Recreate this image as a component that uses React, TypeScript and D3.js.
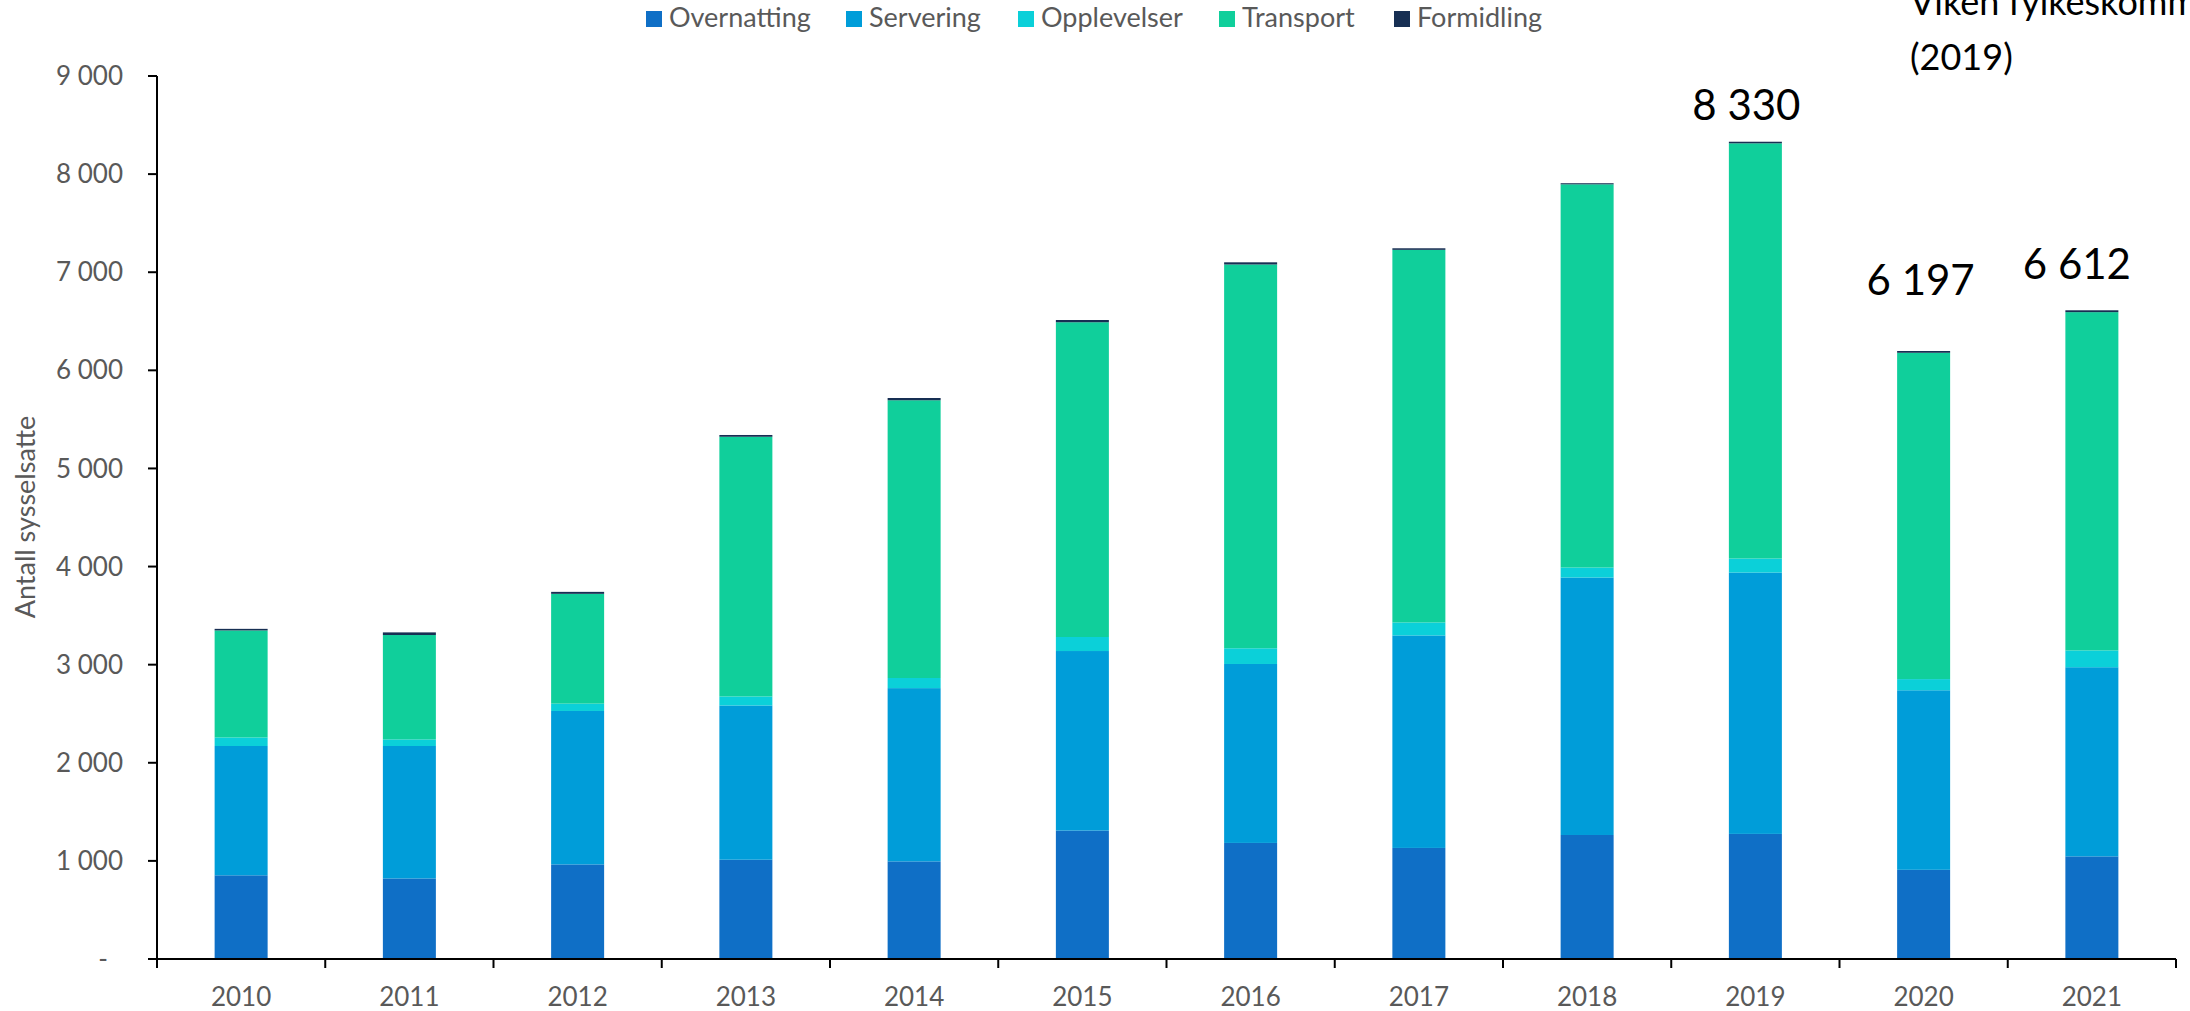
import React from 'react';
import * as d3 from 'd3';

const years = ['2010', '2011', '2012', '2013', '2014', '2015', '2016', '2017', '2018', '2019', '2020', '2021'];
const overnatting = [853, 821, 964, 1012, 995, 1309, 1183, 1132, 1264, 1275, 909, 1046];
const servering = [1318, 1350, 1564, 1572, 1766, 1830, 1824, 2166, 2624, 2664, 1830, 1928];
const opplevelser = [87, 67, 75, 92, 103, 143, 160, 132, 102, 143, 114, 171];
const transport = [1091, 1064, 1119, 2647, 2831, 3208, 3912, 3798, 3906, 4232, 3326, 3448];
const formidling = [16, 27, 20, 18, 23, 23, 22, 16, 11, 16, 18, 19];

const seriesNames = ['Overnatting', 'Servering', 'Opplevelser', 'Transport', 'Formidling'];
const seriesValues = [overnatting, servering, opplevelser, transport, formidling];

const yTicks = [0, 1000, 2000, 3000, 4000, 5000, 6000, 7000, 8000, 9000];
const yTickLabels = ['-', '1 000', '2 000', '3 000', '4 000', '5 000', '6 000', '7 000', '8 000', '9 000'];

const labelYears = ['2019', '2020', '2021'];
const labelTexts = ['8 330', '6 197', '6 612'];

const yTitle = 'Antall sysselsatte';
const noteLines = ['Viken fylkeskommune', '(2019)'];

// styling / layout (not data)
const colors = ['#0F6FC6', '#009DD9', '#0BD0D9', '#10CF9B', '#172F53'];
const labelOffsets = [[-9, -22], [-3, -56], [-15, -31]];
const legendX = [646, 846, 1018, 1219, 1394];
const FONT = 'Lato, "Open Sans", sans-serif';
const GRAY = '#595959';

export default function App() {
  const W = 2190, H = 1011;
  const x0 = 157, x1 = 2176, yBottom = 959, yTop = 76;

  const x = d3.scaleBand<string>().domain(years).range([x0, x1]).paddingInner(0.685).paddingOuter(0.3425);
  const y = d3.scaleLinear().domain([0, 9000]).range([yBottom, yTop]);
  const step = x.step();

  const rows = years.map((yr, i) => {
    const r: any = { year: yr };
    seriesNames.forEach((s, k) => (r[s] = seriesValues[k][i]));
    return r;
  });
  const stacked = d3.stack<any>().keys(seriesNames)(rows);
  const totals = years.map((_, i) => seriesValues.reduce((a, s) => a + s[i], 0));

  return (
    <svg width={W} height={H} style={{ position: 'absolute', left: 0, top: 0, background: '#fff' }} fontFamily={FONT}>
      <rect x={0} y={0} width={W} height={H} fill="#fff" />
      {/* legend */}
      {seriesNames.map((s, k) => (
        <g key={s}>
          <rect x={legendX[k]} y={11} width={16} height={16} fill={colors[k]} />
          <text x={legendX[k] + 23} y={27} fontSize={27} fill={GRAY}>{s}</text>
        </g>
      ))}
      {/* bars */}
      {stacked.map((layer, k) => (
        <g key={layer.key} fill={colors[k]}>
          {layer.map((d: any, i: number) => (
            <rect key={i} x={x(years[i])} width={x.bandwidth()} y={y(d[1])} height={Math.max(0, y(d[0]) - y(d[1]))} />
          ))}
        </g>
      ))}
      {/* y axis */}
      <line x1={x0} x2={x0} y1={yTop} y2={yBottom + 9} stroke="#000" strokeWidth={2} />
      {yTicks.map((t, i) => (
        <g key={t}>
          <line x1={x0 - 9} x2={x0} y1={y(t)} y2={y(t)} stroke="#000" strokeWidth={2} />
          <text x={t === 0 ? 108 : 123} y={y(t)} dy="0.35em" textAnchor="end" fontSize={26} fill={GRAY}>{yTickLabels[i]}</text>
        </g>
      ))}
      {/* x axis */}
      <line x1={x0} x2={x1} y1={yBottom} y2={yBottom} stroke="#000" strokeWidth={2} />
      {d3.range(years.length + 1).map((i) => (
        <line key={i} x1={x0 + i * step} x2={x0 + i * step} y1={yBottom} y2={yBottom + 9} stroke="#000" strokeWidth={2} />
      ))}
      {years.map((yr) => (
        <text key={yr} x={(x(yr) as number) + x.bandwidth() / 2} y={1006} textAnchor="middle" fontSize={26} fill={GRAY}>{yr}</text>
      ))}
      {/* y title */}
      <text transform={`translate(35,517) rotate(-90)`} textAnchor="middle" fontSize={27} fill={GRAY}>{yTitle}</text>
      {/* total labels */}
      {labelYears.map((yr, j) => {
        const i = years.indexOf(yr);
        return (
          <text key={yr} x={(x(yr) as number) + x.bandwidth() / 2 + labelOffsets[j][0]} y={y(totals[i]) + labelOffsets[j][1]}
            textAnchor="middle" fontSize={42} fill="#000">{labelTexts[j]}</text>
        );
      })}
      {/* note */}
      <text x={1910} y={15} fontSize={36} fill="#000">{noteLines[0]}</text>
      <text x={1910} y={70} fontSize={36} fill="#000">{noteLines[1]}</text>
    </svg>
  );
}
